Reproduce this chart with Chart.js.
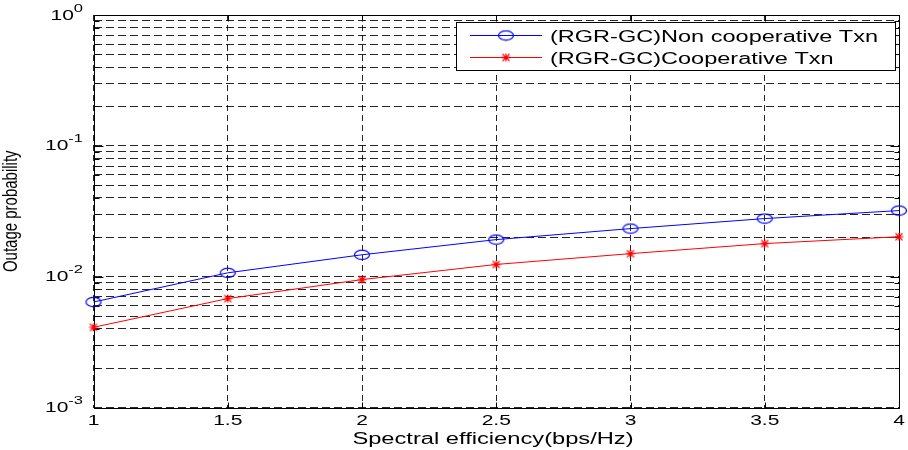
<!DOCTYPE html>
<html lang="en">
<head>
<meta charset="UTF-8" />
<title>Outage probability vs spectral efficiency</title>
<script src="https://cdn.jsdelivr.net/npm/chart.js"></script>
<style>
  html, body { margin: 0; padding: 0; background: #fff; }
</style>
</head>
<body>
<canvas id="outageChart" width="908" height="450"></canvas>

<script>
// data
const spectralEff = [1, 1.5, 2, 2.5, 3, 3.5, 4];
const nonCoop = [0.0064, 0.0107, 0.0147, 0.0192, 0.0233, 0.0278, 0.0320];
const coop = [0.0041, 0.0068, 0.0095, 0.0124, 0.0150, 0.0179, 0.0202];
const seriesLabels = ['(RGR-GC)Non cooperative Txn', '(RGR-GC)Cooperative Txn'];

// axis ticks
const xTickLabels = ['1', '1.5', '2', '2.5', '3', '3.5', '4'];
const yDecades = [0.001, 0.01, 0.1, 1];
const yDecadeExps = ['-3', '-2', '-1', '0'];
const yMinorSteps = [2, 3, 4, 5, 6, 7, 8, 9];
const xTitle = 'Spectral efficiency(bps/Hz)';
const yTitle = 'Outage probability';

const FONT = '"Liberation Sans", Arial, sans-serif';

// y tick list: every decade plus 2..9 inside it
const yTickValues = [];
yDecades.forEach((d, i) => {
    yTickValues.push(d);
    if (i < yDecades.length - 1) yMinorSteps.forEach(m => yTickValues.push(+(d * m).toPrecision(3)));
});

// marker images (MATLAB 'o' and '*', a bit wide like the original)
function circleMarker(color) {
    const c = document.createElement('canvas');
    c.width = 18; c.height = 12;
    const g = c.getContext('2d');
    g.strokeStyle = color; g.lineWidth = 1.2;
    g.beginPath();
    g.ellipse(9, 6, 7.5, 4.6, 0, 0, Math.PI * 2);
    g.stroke();
    return c;
}
function starMarker(color) {
    const c = document.createElement('canvas');
    c.width = 12; c.height = 10;
    const g = c.getContext('2d');
    g.strokeStyle = color; g.lineWidth = 1.1;
    g.beginPath();
    g.moveTo(1.5, 5); g.lineTo(10.5, 5);
    g.moveTo(6, 1); g.lineTo(6, 9);
    g.moveTo(2.5, 1.5); g.lineTo(9.5, 8.5);
    g.moveTo(9.5, 1.5); g.lineTo(2.5, 8.5);
    g.stroke();
    return c;
}
const blueMark = circleMarker('#0000ff');
const redMark = starMarker('#ff0000');

function wideText(ctx, text, x, y, size, align, sx) {
    ctx.save();
    ctx.font = size + 'px ' + FONT;
    ctx.textAlign = align;
    ctx.textBaseline = 'alphabetic';
    ctx.fillStyle = '#000';
    ctx.translate(x, y);
    ctx.scale(sx, 1);
    ctx.fillText(text, 0, 0);
    ctx.restore();
}

// axes box + inward tick marks, under the data
const boxPlugin = {
    id: 'matlabBox',
    beforeDatasetsDraw(chart) {
        const ctx = chart.ctx;
        const a = chart.chartArea;
        const xs = chart.scales.x, ys = chart.scales.y;
        const L = Math.round(a.left) + 0.5, R = Math.round(a.right) + 0.5;
        const T = Math.round(a.top) + 0.5, B = Math.round(a.bottom) + 0.5;
        ctx.save();
        ctx.strokeStyle = '#000';
        ctx.lineWidth = 1;
        ctx.beginPath();
        ys.ticks.forEach(t => {
            const py = Math.round(ys.getPixelForValue(t.value)) + 0.5;
            const len = yDecades.includes(t.value) ? 9 : 5;
            ctx.moveTo(L, py); ctx.lineTo(L + len, py);
            ctx.moveTo(R, py); ctx.lineTo(R - len, py);
        });
        xs.ticks.forEach(t => {
            const px = Math.round(xs.getPixelForValue(t.value)) + 0.5;
            ctx.moveTo(px, B); ctx.lineTo(px, B - 6);
            ctx.moveTo(px, T); ctx.lineTo(px, T + 6);
        });
        ctx.stroke();
        ctx.strokeRect(L, T, R - L, B - T);
        ctx.restore();
    }
};

// tick labels, titles and legend
const textPlugin = {
    id: 'matlabText',
    afterDraw(chart) {
        const ctx = chart.ctx;
        const a = chart.chartArea;
        const xs = chart.scales.x, ys = chart.scales.y;

        xs.ticks.forEach((t, i) => {
            wideText(ctx, xTickLabels[i], xs.getPixelForValue(t.value), 425, 14, 'center', 1.5);
        });

        yDecades.forEach((d, i) => {
            const py = ys.getPixelForValue(d);
            ctx.save();
            ctx.font = '11px ' + FONT;
            const wExp = ctx.measureText(yDecadeExps[i]).width * 1.5;
            ctx.restore();
            const right = 83;
            wideText(ctx, '10', right - wExp, py + 4.5, 14, 'right', 1.5);
            wideText(ctx, yDecadeExps[i], right - wExp, py - 3.5, 11, 'left', 1.5);
        });

        wideText(ctx, xTitle, 493, 444, 16, 'center', 1.48);

        // y title: rotated, glyphs drawn taller so it looks condensed like the original
        ctx.save();
        ctx.font = '15px ' + FONT;
        ctx.fillStyle = '#000';
        ctx.textAlign = 'center';
        ctx.textBaseline = 'alphabetic';
        ctx.translate(16.5, (a.top + a.bottom) / 2);
        ctx.scale(1.3, 1);
        ctx.rotate(-Math.PI / 2);
        ctx.fillText(yTitle, 0, 0);
        ctx.restore();

        // legend box
        ctx.save();
        ctx.fillStyle = '#fff';
        ctx.strokeStyle = '#000';
        ctx.lineWidth = 1;
        ctx.fillRect(456.5, 22.5, 439, 48);
        ctx.strokeRect(456.5, 22.5, 439, 48);
        chart.data.datasets.forEach((ds, i) => {
            const ry = 35.5 + i * 22;
            ctx.strokeStyle = ds.borderColor;
            ctx.beginPath();
            ctx.moveTo(470, ry); ctx.lineTo(542, ry);
            ctx.stroke();
            const img = ds.pointStyle;
            ctx.drawImage(img, 506 - img.width / 2, ry - img.height / 2);
            wideText(ctx, ds.label, 550, ry + 6.5, 16, 'left', 1.47);
        });
        ctx.restore();
    }
};

const ctx = document.getElementById('outageChart').getContext('2d');
new Chart(ctx, {
    type: 'line',
    data: {
        datasets: [{
            label: seriesLabels[0],
            data: spectralEff.map((x, i) => ({ x: x, y: nonCoop[i] })),
            borderColor: '#0000ff',
            backgroundColor: '#0000ff',
            borderWidth: 1,
            pointStyle: blueMark,
            fill: false,
            tension: 0,
            clip: false
        }, {
            label: seriesLabels[1],
            data: spectralEff.map((x, i) => ({ x: x, y: coop[i] })),
            borderColor: '#ff0000',
            backgroundColor: '#ff0000',
            borderWidth: 1,
            pointStyle: redMark,
            fill: false,
            tension: 0,
            clip: false
        }]
    },
    options: {
        responsive: false,
        animation: false,
        layout: { padding: { left: 0, right: 9, top: 15, bottom: 0 } },
        plugins: {
            legend: { display: false },
            tooltip: { enabled: false }
        },
        scales: {
            x: {
                type: 'linear',
                min: 1,
                max: 4,
                ticks: { stepSize: 0.5, display: false },
                grid: { color: 'rgba(0,0,0,0.85)', lineWidth: 1, drawTicks: false },
                border: { display: false, dash: [6, 4] },
                afterFit: s => { s.height = 42.5; }
            },
            y: {
                type: 'logarithmic',
                min: 0.001,
                max: 1,
                afterBuildTicks: s => {
                    s.ticks = yTickValues.map(v => ({ value: v, major: yDecades.includes(v) }));
                },
                ticks: { display: false, autoSkip: false },
                grid: { color: 'rgba(0,0,0,0.85)', lineWidth: 1, drawTicks: false },
                border: { display: false, dash: [8, 4] },
                afterFit: s => { s.width = 93.5; }
            }
        }
    },
    plugins: [boxPlugin, textPlugin]
});
</script>
</body>
</html>
